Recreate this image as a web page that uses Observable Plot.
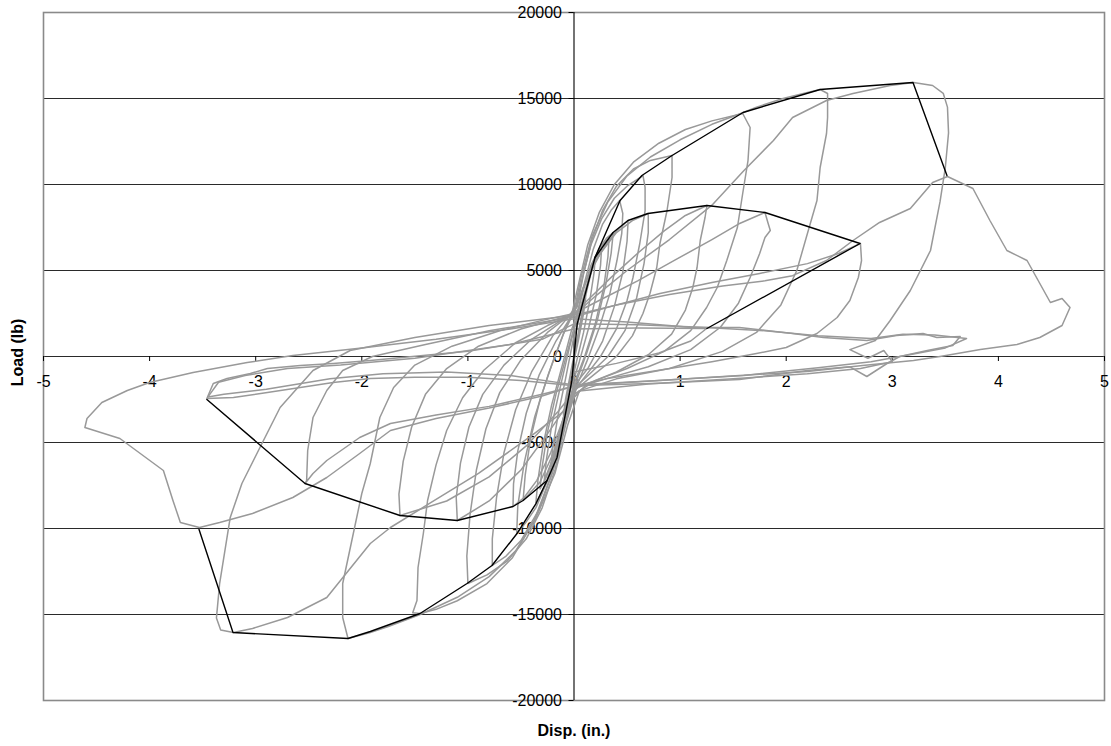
<!DOCTYPE html>
<html>
<head>
<meta charset="utf-8">
<script src="https://cdn.jsdelivr.net/npm/d3@7"></script>
<script src="https://cdn.jsdelivr.net/npm/@observablehq/plot@0.6"></script>
<style>
  body { margin: 0; background: #fff; }
  #chart svg { display: block; }
</style>
</head>
<body>
<div id="chart"></div>
<script>
// Axis ticks
const xTicks = [-5, -4, -3, -2, -1, 0, 1, 2, 3, 4, 5];
const yTicks = [-20000, -15000, -10000, -5000, 0, 5000, 10000, 15000, 20000];

// Hysteresis record, one array per load cycle: [disp (in.), load (lb)]
const loop01 = [[0,0],[0.04,1200],[0.08,2600],[0.11,3400],[0.09,2500],[0.04,900],[-0.02,-800],[-0.06,-2200],[-0.1,-3400],[-0.08,-2500],[-0.03,-900],[0.02,700]];
const loop02 = [[0.02,700],[0.07,2300],[0.12,3800],[0.17,5100],[0.2,5800],[0.19,4900],[0.15,3300],[0.09,1400],[0.02,-400],[-0.05,-2200],[-0.12,-4100],[-0.18,-5600],[-0.22,-6400],[-0.2,-5300],[-0.15,-3400],[-0.08,-1300],[-0.01,900],[0.04,2000]];
const loop02b = [[0.04,2000],[0.09,3300],[0.15,4700],[0.21,5700],[0.26,6300],[0.25,5300],[0.21,3600],[0.14,1700],[0.05,-300],[-0.04,-2100],[-0.13,-4300],[-0.21,-6100],[-0.28,-7200],[-0.26,-6000],[-0.21,-4000],[-0.13,-1800],[-0.04,600],[0.03,2200]];
const loop03 = [[0.03,2200],[0.1,3700],[0.17,5300],[0.25,6400],[0.31,6900],[0.37,7209],[0.35,6000],[0.3,4200],[0.22,2100],[0.12,200],[0.02,-1500],[-0.08,-3500],[-0.17,-5600],[-0.26,-7300],[-0.36,-8547],[-0.34,-7200],[-0.29,-5100],[-0.21,-2800],[-0.11,-500],[-0.02,1600],[0.03,2500]];
const loop03b = [[0.03,2500],[0.09,3900],[0.16,5300],[0.24,6300],[0.33,6900],[0.32,5800],[0.28,4000],[0.2,1900],[0.1,0],[0,-1600],[-0.09,-3600],[-0.18,-5600],[-0.26,-7000],[-0.32,-7700],[-0.3,-6400],[-0.25,-4400],[-0.17,-2200],[-0.07,100],[0.02,2100],[0.03,2500]];
const loop04 = [[0.03,2500],[0.1,4300],[0.18,6200],[0.27,7700],[0.35,8500],[0.43,9070],[0.46,8314],[0.45,7151],[0.405,5581],[0.34,3700],[0.24,1700],[0.12,-300],[0.02,-1800],[-0.1,-4200],[-0.22,-6800],[-0.36,-8800],[-0.46,-9700],[-0.54,-10291],[-0.53,-8700],[-0.47,-6200],[-0.37,-3500],[-0.24,-1000],[-0.1,1300],[0,2600]];
const loop05 = [[0,2600],[0.08,3900],[0.18,5300],[0.3,6500],[0.4,7300],[0.51,7907],[0.5,6700],[0.46,4900],[0.38,2900],[0.27,900],[0.13,-700],[0,-1700],[-0.1,-3700],[-0.2,-5700],[-0.32,-7300],[-0.48,-8372],[-0.46,-6900],[-0.41,-4800],[-0.32,-2500],[-0.2,-300],[-0.07,1800],[0.01,2700]];
const loop06 = [[0.01,2700],[0.08,4600],[0.16,6500],[0.26,8000],[0.38,9200],[0.5,9900],[0.65,10523],[0.67,9826],[0.67,8488],[0.62,6570],[0.556,4593],[0.5,3256],[0.4,1600],[0.25,0],[0.1,-1200],[0,-2000],[-0.1,-4300],[-0.2,-6700],[-0.33,-8900],[-0.5,-10700],[-0.64,-11600],[-0.77,-12151],[-0.77,-10600],[-0.73,-8200],[-0.66,-5600],[-0.55,-3100],[-0.4,-900],[-0.2,1200],[-0.03,2500],[0.03,3000]];
const loop07 = [[0.03,3000],[0.12,4500],[0.25,6000],[0.4,7200],[0.55,7900],[0.7,8314],[0.7,7200],[0.66,5400],[0.59,3400],[0.48,1500],[0.32,0],[0.15,-1000],[0.01,-1800],[-0.1,-3600],[-0.22,-5600],[-0.35,-7200],[-0.47,-8200],[-0.575,-8721],[-0.57,-7400],[-0.53,-5500],[-0.45,-3300],[-0.33,-1100],[-0.17,900],[-0.02,2400],[0.03,2900]];
const loop08 = [[0.03,2900],[0.09,4800],[0.17,6800],[0.27,8500],[0.4,9900],[0.56,10900],[0.72,11400],[0.924,11686],[0.924,10407],[0.877,8488],[0.81,6570],[0.78,5174],[0.716,3663],[0.65,2500],[0.55,1200],[0.4,0],[0.2,-1000],[0.02,-1900],[-0.08,-4000],[-0.18,-6600],[-0.3,-8800],[-0.45,-10600],[-0.63,-11900],[-0.82,-12700],[-1.0,-13198],[-1.01,-11600],[-0.98,-9200],[-0.92,-6600],[-0.83,-4200],[-0.7,-2100],[-0.5,-200],[-0.25,1400],[-0.02,2500]];
const loop09 = [[-0.02,2500],[0.05,4400],[0.13,6500],[0.24,8400],[0.38,10000],[0.56,11300],[0.8,12400],[1.05,13200],[1.3,13700],[1.59,14128],[1.66,13314],[1.64,11395],[1.59,9477],[1.54,7500],[1.44,5581],[1.35,4012],[1.25,2849],[1.1,1500],[0.85,300],[0.5,-700],[0.2,-1400],[0,-2200],[-0.1,-4300],[-0.22,-7000],[-0.38,-9600],[-0.58,-11700],[-0.82,-13200],[-1.1,-14200],[-1.3,-14700],[-1.45,-14942],[-1.52,-14900],[-1.48,-14186],[-1.47,-12267],[-1.42,-10291],[-1.38,-8372],[-1.3,-6300],[-1.2,-4300],[-1.05,-2400],[-0.85,-800],[-0.55,800],[-0.25,1800],[0,2500]];
const loop10 = [[0,2500],[0.15,3400],[0.35,4600],[0.6,6000],[0.85,7300],[1.05,8200],[1.253,8779],[1.235,8081],[1.19,6744],[1.16,5174],[1.12,4012],[1.05,2700],[0.92,1300],[0.7,100],[0.4,-900],[0.12,-1600],[-0.05,-2700],[-0.25,-4500],[-0.5,-6600],[-0.8,-8400],[-1.1,-9535],[-1.11,-8200],[-1.07,-6200],[-0.99,-4100],[-0.86,-2200],[-0.66,-500],[-0.4,1000],[-0.12,2100],[0,2600]];
const loop11 = [[0,2600],[0.07,4700],[0.17,7000],[0.32,9000],[0.5,10500],[0.72,11600],[1.0,12600],[1.3,13500],[1.56,14100],[1.72,14500],[1.97,15000],[2.2,15350],[2.32,15523],[2.39,15290],[2.39,13895],[2.38,12965],[2.32,10988],[2.29,9070],[2.2,7151],[2.1,5000],[1.95,3000],[1.72,1400],[1.4,300],[0.9,-700],[0.4,-1300],[0.05,-2000],[-0.06,-4000],[-0.18,-6800],[-0.36,-9400],[-0.55,-11300],[-0.8,-12800],[-1.1,-14000],[-1.45,-15000],[-1.75,-15700],[-1.92,-16047],[-2.13,-16395],[-2.18,-15174],[-2.18,-13198],[-2.08,-10291],[-2.0,-7965],[-1.92,-6221],[-1.83,-3547],[-1.7,-1800],[-1.5,-500],[-1.15,600],[-0.7,1500],[-0.3,2100],[0,2500]];
const loop12 = [[0,2500],[0.25,3300],[0.6,4400],[0.95,5600],[1.3,6800],[1.55,7700],[1.8,8372],[1.83,7733],[1.85,7326],[1.8,6919],[1.75,5988],[1.66,4593],[1.55,3100],[1.38,1700],[1.1,400],[0.7,-600],[0.3,-1300],[0.03,-1800],[-0.15,-3200],[-0.45,-5200],[-0.8,-7000],[-1.2,-8400],[-1.64,-9244],[-1.65,-8000],[-1.61,-6100],[-1.53,-4100],[-1.4,-2200],[-1.2,-700],[-0.9,600],[-0.5,1600],[-0.15,2200],[0,2400]];
const loop13 = [[0,2400],[0.2,3500],[0.5,5000],[0.9,6800],[1.3,8800],[1.6,10800],[1.88,12558],[2.06,13895],[2.38,14884],[2.63,15290],[2.98,15756],[3.2,15930],[3.38,15756],[3.48,15300],[3.52,14500],[3.53,13000],[3.5,11000],[3.45,9000],[3.36,6163],[3.17,3837],[2.98,2093],[2.84,930],[2.6,400],[2.77,-100],[2.92,350],[3.0,-300],[2.7,-700],[2.2,-1000],[1.5,-1300],[0.7,-1600],[0.05,-2000],[-0.1,-3200],[-0.4,-4600],[-0.9,-6800],[-1.35,-8500],[-1.73,-9942],[-1.92,-10872],[-2.33,-14012],[-2.7,-15174],[-3.03,-15814],[-3.21,-16047],[-3.33,-15900],[-3.37,-15200],[-3.34,-13198],[-3.24,-9360],[-3.13,-7384],[-2.96,-5291],[-2.77,-2965],[-2.46,-814],[-2.11,349],[-1.5,1100],[-0.8,1800],[0,2400]];
const loop14 = [[0,2400],[0.4,3000],[0.81,3663],[1.3,4300],[1.75,4826],[2.2,5400],[2.5,6000],[2.7,6570],[2.71,5581],[2.68,4593],[2.6,3256],[2.48,2267],[2.29,1337],[2.0,523],[1.72,174],[1.3,-300],[0.8,-800],[0.3,-1300],[0.02,-1700],[-0.3,-2200],[-0.8,-2900],[-1.3,-3400],[-1.73,-3895],[-2.02,-4709],[-2.33,-6047],[-2.46,-6802],[-2.535,-7384],[-2.52,-7209],[-2.51,-5465],[-2.46,-3547],[-2.33,-1977],[-2.18,-814],[-1.9,0],[-1.4,700],[-0.8,1500],[0,2300]];
const loop15 = [[0,2300],[0.4,3000],[0.9,3600],[1.4,4100],[1.8,4400],[2.06,4700],[2.38,5581],[2.63,6744],[2.88,7791],[3.17,8605],[3.38,10116],[3.52,10465],[3.76,9767],[3.92,7907],[4.08,6163],[4.27,5581],[4.49,3140],[4.6,3372],[4.675,2849],[4.6,1802],[4.39,1105],[4.175,698],[3.83,407],[3.45,0],[3.2,-233],[2.72,-523],[2.2,-872],[1.56,-1105],[0.8,-1400],[0,-1700],[-0.3,-2300],[-0.8,-3000],[-1.3,-3600],[-1.73,-4302],[-2.02,-5640],[-2.33,-7035],[-2.65,-8198],[-3.03,-9128],[-3.34,-9651],[-3.53,-9942],[-3.71,-9651],[-3.78,-8372],[-3.87,-6628],[-4.28,-4767],[-4.61,-4128],[-4.59,-3605],[-4.45,-2674],[-4.21,-1977],[-4.0,-1512],[-3.59,-930],[-3.08,-349],[-2.65,58],[-2.0,500],[-1.3,1000],[-0.6,1600],[0,2200]];
const loop16 = [[0,2200],[0.5,2000],[1.12,1686],[1.56,1686],[2.06,1337],[2.35,1105],[2.76,930],[3.04,1221],[3.29,1337],[3.42,1105],[3.64,1163],[3.57,640],[3.33,349],[3.07,0],[2.95,-407],[2.76,-1163],[2.6,-600],[2.2,-814],[1.56,-1337],[0.8,-1550],[0,-1700],[-0.5,-1400],[-1.0,-1200],[-1.5,-1200],[-1.92,-1279],[-2.27,-1512],[-2.58,-1802],[-2.89,-2093],[-3.21,-2384],[-3.46,-2442],[-3.4,-1570],[-3.27,-1279],[-3.05,-988],[-2.89,-698],[-2.58,-523],[-2.27,-407],[-1.92,-233],[-1.0,300],[-0.3,1000],[0,1900]];
const loop17 = [[0,1900],[0.6,1850],[1.2,1700],[1.8,1500],[2.3,1200],[2.8,1050],[3.1,1300],[3.4,1250],[3.7,1050],[3.5,500],[3.2,150],[2.8,-300],[2.3,-650],[1.6,-1100],[0.8,-1400],[0,-1650],[-0.6,-1100],[-1.2,-900],[-1.8,-1000],[-2.3,-1300],[-2.9,-1900],[-3.3,-2200],[-3.45,-2350],[-3.35,-1500],[-3.1,-1100],[-2.7,-700],[-2.2,-500],[-1.5,-100],[-0.6,700],[0,1600],[0.6,1650],[1.25,1628],[1.1,900],[0.8,200],[0.4,-400],[0,-900]];

// Envelope curves (peak load per cycle)
const envFirstPos  = [[0,0],[0.03,1900],[0.198,5756],[0.434,9070],[0.64,10523],[0.924,11686],[1.593,14186],[2.32,15523],[3.195,15930],[3.515,10523]];
const envStablePos = [[0.198,5756],[0.368,7209],[0.509,7907],[0.697,8314],[1.253,8779],[1.8,8372],[2.696,6570],[1.253,1628]];
const envFirstNeg  = [[0,0],[-0.02,-1400],[-0.16,-5872],[-0.254,-7209],[-0.358,-8547],[-0.537,-10291],[-0.773,-12151],[-1.008,-13198],[-1.451,-14942],[-1.92,-15988],[-2.13,-16395],[-3.214,-16047],[-3.534,-10058]];
const envStableNeg = [[-0.254,-7209],[-0.48,-8372],[-0.575,-8721],[-1.1,-9535],[-1.64,-9244],[-2.535,-7384],[-3.46,-2500]];

const loops = [loop01, loop02, loop02b, loop03, loop03b, loop04, loop05, loop06, loop07, loop08, loop09,
               loop10, loop11, loop12, loop13, loop14, loop15, loop16, loop17];
const envelopes = [envFirstPos, envStablePos, envFirstNeg, envStableNeg];

const toRows = (list) => list.flatMap((pts, i) => pts.map(([disp, load]) => ({id: i, disp, load})));
const loopRows = toRows(loops);
const envRows = toRows(envelopes);

const W = 1111, H = 746;
const mL = 43, mR = 7, mT = 12, mB = 46;
// data units per pixel, for the 5 px tick marks on the crossing axes
const perPxX = 10 / (W - mL - mR);
const perPxY = 40000 / (H - mT - mB);
const tick = 5;

const chart = Plot.plot({
  width: W,
  height: H,
  marginLeft: mL,
  marginRight: mR,
  marginTop: mT,
  marginBottom: mB,
  x: {domain: [-5, 5], axis: null},
  y: {domain: [-20000, 20000], axis: null},
  style: {background: "#fff", fontFamily: "'Liberation Sans', Arial, sans-serif", fontSize: "16px", color: "#000"},
  marks: [
    Plot.ruleY(yTicks.filter(v => Math.abs(v) < 20000), {y: d => d, stroke: "#2a2a2a", strokeWidth: 1.1}),
    Plot.frame({stroke: "#8a8a8a", strokeWidth: 1.6}),
    Plot.ruleX([0], {x: d => d, stroke: "#000", strokeWidth: 1.1}),
    Plot.ruleX(xTicks, {x: d => d, y1: 0, y2: -tick * perPxY, stroke: "#000", strokeWidth: 1}),
    Plot.ruleY(yTicks, {y: d => d, x1: 0, x2: -tick * perPxX, stroke: "#000", strokeWidth: 1}),
    Plot.text(xTicks, {x: d => d, y: 0, dy: 25, text: d => String(d), fill: "#000"}),
    Plot.text(yTicks, {x: 0, y: d => d, dx: -12, textAnchor: "end", text: d => String(d), fill: "#000"}),
    Plot.line(loopRows, {x: "disp", y: "load", z: "id", stroke: "#999", strokeWidth: 1.5, curve: "linear"}),
    Plot.line(envRows, {x: "disp", y: "load", z: "id", stroke: "#000", strokeWidth: 1.4, curve: "linear"}),
    Plot.text(["Disp. (in.)"], {x: 0, y: -20000, dy: 30, text: d => d, fontWeight: "bold", fill: "#000"}),
    Plot.text(["Load (lb)"], {x: -5, y: 0, dx: -26, dy: -4, rotate: -90, text: d => d, fontWeight: "bold", fill: "#000"})
  ]
});

document.getElementById("chart").appendChild(chart);
</script>
</body>
</html>
